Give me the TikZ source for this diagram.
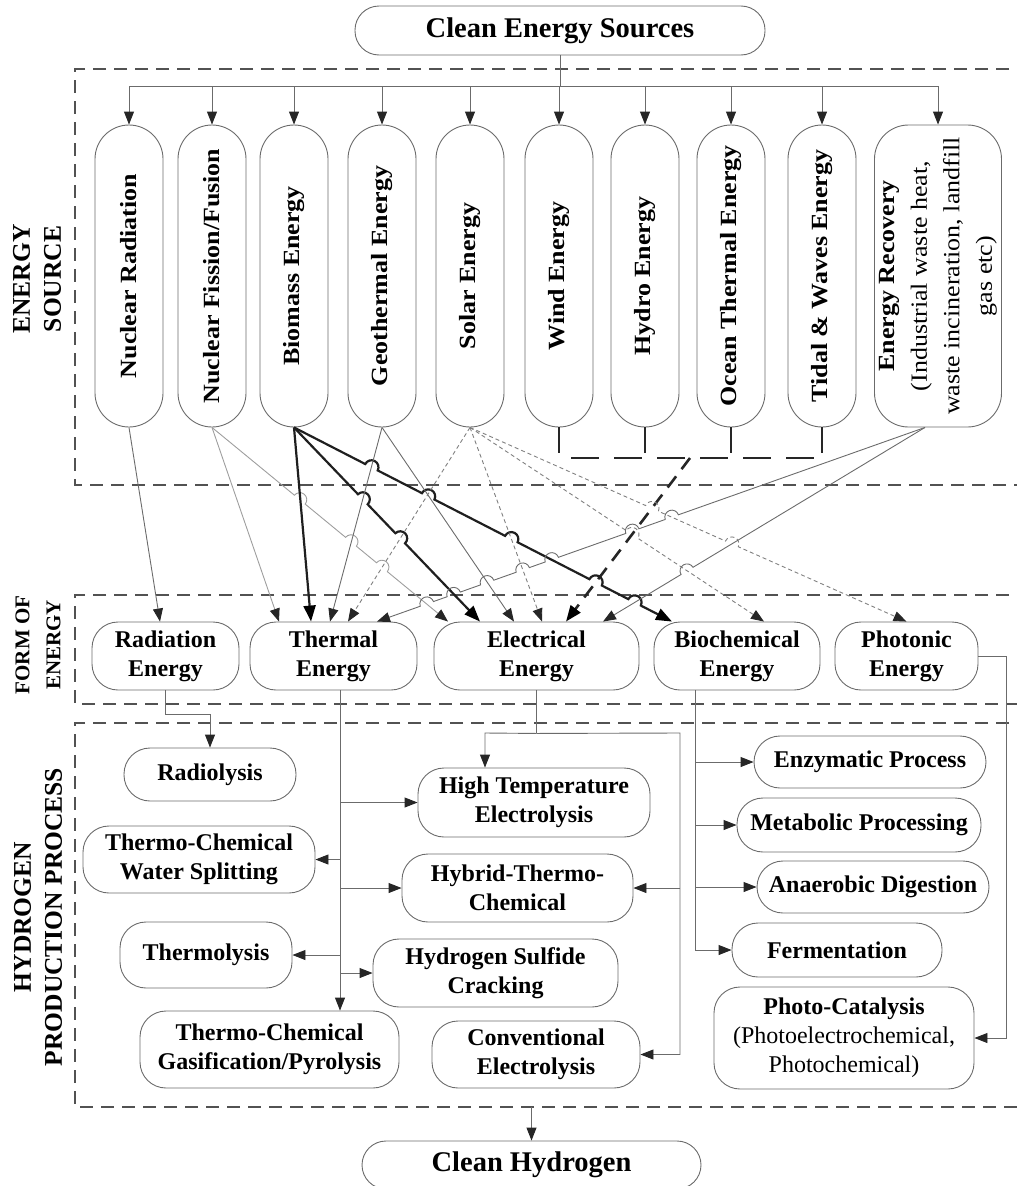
\documentclass[tikz,border=0pt]{standalone}
\usepackage{fontspec}
\setmainfont{Liberation Serif}
\newfontfamily\vfam[FakeStretch=1.12]{Liberation Serif}
\usetikzlibrary{arrows.meta,calc}

\definecolor{ndc}{gray}{0.42}
\definecolor{lnc}{gray}{0.42}
\definecolor{lnl}{gray}{0.62}
\definecolor{bxc}{gray}{0.32}

\newcommand\hfnt{\bfseries\fontsize{24}{29}\selectfont}
\newcommand\vfnt{\vfam\bfseries\fontsize{23.2}{32.5}\selectfont}
\newcommand\tfnt{\bfseries\fontsize{28.5}{32}\selectfont}
\newcommand\lfnt{\bfseries\fontsize{25.5}{31}\selectfont}
\newcommand\mfnt{\bfseries\fontsize{21}{31}\selectfont}

% line with hops: style, from, to, list of fractions, arc delta
\newcommand\hopline[5]{%
  \draw[#1] let \p1=(#2), \p2=(#3), \n1={atan2(\y2-\y1,\x2-\x1)} in (#2)
    \foreach \hopt in {#4} { -- ($(#2)!\hopt!(#3)+({\n1+180}:7pt)$) arc[start angle=\n1+180, delta angle=#5, radius=7pt] }
    -- (#3);}

\tikzset{
  nd/.style={draw=ndc, line width=0.9pt, rounded corners=26pt, align=center, inner sep=0pt, font=\hfnt},
  vnd/.style={draw=ndc, line width=0.9pt, rounded corners=34pt, align=center, inner sep=0pt, font=\vfnt,
              rotate=90, minimum width=302pt, minimum height=68pt},
  lab/.style={rotate=90, align=center, inner sep=0pt},
  bx/.style={draw=bxc, line width=2.3pt, dash pattern=on 13pt off 8pt},
  arr/.style={-{Triangle[length=13pt,width=10pt,color=black!85]}},
  arrT/.style={-{Triangle[length=16pt,width=12pt,color=black]}},
  lnB/.style={draw=lnc, line width=0.9pt},
  lnL/.style={draw=lnl, line width=0.9pt},
  dsh/.style={draw=black!50, line width=0.9pt, dash pattern=on 4pt off 3pt},
  thk/.style={draw=black!88, line width=2.2pt},
  wd/.style={draw=black!85, line width=2.6pt, dash pattern=on 14pt off 9pt},
  wdash/.style={draw=black!85, line width=2pt, dash pattern=on 28pt off 15pt},
  tickln/.style={draw=black!85, line width=1.6pt},
}

\begin{document}
\begin{tikzpicture}[x=1pt,y=1pt]
\useasboundingbox (0,0) rectangle (1017,-1186);

% ---- dashed section boxes (open on the right)
\draw[bx] (1030,-69) -- (75,-69) -- (75,-485) -- (1030,-485);
\draw[bx] (1030,-595) -- (75,-595) -- (75,-704) -- (1030,-704);
\draw[bx] (1030,-723) -- (75,-723) -- (75,-1107) -- (1030,-1107);

% ---- section labels
\node[lab, font=\lfnt] (lab1) at (37,-279) {ENERGY\\SOURCE};
\node[lab, font=\mfnt] (lab2) at (38,-645) {FORM OF\\ENERGY};
\node[lab, font=\lfnt] (lab3) at (38,-917) {HYDROGEN\\PRODUCTION PROCESS};

% ---- header
\node[nd, font=\tfnt, rounded corners=24pt, minimum width=410pt, minimum height=49pt] (hdr) at (560,-30.5) {Clean Energy Sources};

% ---- energy sources
\node[vnd] (nr) at (129,-276) {Nuclear Radiation};
\node[vnd] (nf) at (212,-276) {Nuclear Fission/Fusion};
\node[vnd] (bm) at (294,-276) {Biomass Energy};
\node[vnd] (gt) at (382,-276) {Geothermal Energy};
\node[vnd] (so) at (470,-276) {Solar Energy};
\node[vnd] (wi) at (559,-276) {Wind Energy};
\node[vnd] (hy) at (645,-276) {Hydro Energy};
\node[vnd] (oc) at (731,-276) {Ocean Thermal Energy};
\node[vnd] (ti) at (822,-276) {Tidal \& Waves Energy};
\node[vnd, minimum height=127pt] (er) at (938,-276) {Energy Recovery\\\mdseries(Industrial waste heat,\\\mdseries waste incineration, landfill\\\mdseries gas etc)};

% ---- forms of energy
\node[nd, minimum width=147pt, minimum height=68pt] (rad) at (165.5,-656) {Radiation\\Energy};
\node[nd, minimum width=167pt, minimum height=68pt] (th) at (333.5,-656) {Thermal\\Energy};
\node[nd, minimum width=205pt, minimum height=68pt] (el) at (536.5,-656) {Electrical\\Energy};
\node[nd, minimum width=166pt, minimum height=68pt] (bc) at (737,-656) {Biochemical\\Energy};
\node[nd, minimum width=143pt, minimum height=68pt] (ph) at (906.5,-656) {Photonic\\Energy};

% ---- processes
\node[nd, minimum width=172pt, minimum height=53pt] (rdl) at (210,-774.5) {Radiolysis};
\node[nd, minimum width=232pt, minimum height=69pt] (hte) at (534,-802.5) {High Temperature\\Electrolysis};
\node[nd, minimum width=232pt, minimum height=67pt] (tcws) at (199,-859.5) {Thermo-Chemical\\Water Splitting};
\node[nd, minimum width=231pt, minimum height=68pt] (hyb) at (517.5,-888) {Hybrid-Thermo-\\Chemical};
\node[nd, minimum width=172pt, minimum height=66pt] (tml) at (206,-955) {Thermolysis};
\node[nd, minimum width=245pt, minimum height=68pt] (hsc) at (495.5,-973) {Hydrogen Sulfide\\Cracking};
\node[nd, minimum width=259pt, minimum height=77pt] (gas) at (269.5,-1049.5) {Thermo-Chemical\\Gasification/Pyrolysis};
\node[nd, minimum width=208pt, minimum height=67pt] (cel) at (536,-1054.5) {Conventional\\Electrolysis};
\node[nd, minimum width=232pt, minimum height=52pt] (enz) at (870,-762) {Enzymatic Process};
\node[nd, minimum width=244pt, minimum height=54pt] (met) at (859,-825) {Metabolic Processing};
\node[nd, minimum width=232pt, minimum height=52pt] (ana) at (873,-887) {Anaerobic Digestion};
\node[nd, minimum width=210pt, minimum height=54pt] (fer) at (837,-950) {Fermentation};
\node[nd, minimum width=260pt, minimum height=102pt] (pc) at (844,-1038) {Photo-Catalysis\\\mdseries(Photoelectrochemical,\\\mdseries Photochemical)};
\node[nd, font=\tfnt, rounded corners=24pt, minimum width=339pt, minimum height=48pt] (ch) at (531.5,-1165) {Clean Hydrogen};

% ---- top distribution
\coordinate (bus) at (560,-86);
\draw[lnB] (hdr.south) -- (hdr.south |- bus);
\draw[lnB] (nr.east |- bus) -- (er.east |- bus);
\foreach \n in {nr,nf,bm,gt,so,wi,hy,oc,ti,er} \draw[lnB,arr] (\n.east |- bus) -- (\n.east);

% ---- target points on the form-of-energy nodes
\coordinate (radT) at ($(rad.north)+(-5.5,0)$);
\coordinate (th1) at ($(th.north)+(-54.5,0)$);
\coordinate (th2) at ($(th.north)+(-22.5,0)$);
\coordinate (th3) at ($(th.north)+(-3.5,0)$);
\coordinate (th4) at ($(th.north)+(14.5,0)$);
\coordinate (th5) at ($(th.north)+(43.5,0)$);
\coordinate (el1) at ($(el.north)+(-88.5,0)$);
\coordinate (el2) at ($(el.north)+(-56.5,0)$);
\coordinate (el3) at ($(el.north)+(-22.5,0)$);
\coordinate (el4) at ($(el.north)+(5.5,0)$);
\coordinate (el5) at ($(el.north)+(29.5,0)$);
\coordinate (el6) at ($(el.north)+(66.5,0)$);
\coordinate (bc1) at ($(bc.north)+(-65,0)$);
\coordinate (bc2) at ($(bc.north)+(27,0)$);
\coordinate (erB) at ($(er.west)+(-13,0)$);

% ---- wind/hydro/ocean/tidal collector
\foreach \n in {wi,hy,oc,ti} \draw[tickln] (\n.west) -- ++(0,-26);
\coordinate (wl) at ($(wi.west)+(12,-31)$);
\coordinate (wr) at ($(ti.west)+(-7,-31)$);
\coordinate (wj) at (690,-458);
\draw[wdash] (wl) -- (wr);
\draw[wd,arrT] (wj) -- (el5);

% ---- source to form connectors
\draw[lnB,arr] (nr.west) -- (radT);
\draw[lnL,arr] (nf.west) -- (th1);
\hopline{lnL,arr}{nf.west}{el1}{0.372,0.589,0.720}{-180}
\draw[thk,arrT] (bm.west) -- (th2);
\hopline{thk,arrT}{bm.west}{el2}{0.370,0.571}{-180}
\hopline{thk,arrT}{bm.west}{bc1}{0.205,0.355,0.575,0.798,0.901}{-180}
\draw[lnB,arr] (gt.west) -- (th3);
\draw[lnB,arr] (gt.west) -- (el3);
\draw[dsh,arr] (so.west) -- (th4);
\draw[dsh,arr] (so.west) -- (el4);
\hopline{dsh,arr}{so.west}{bc2}{0.551}{-180}
\hopline{dsh,arr}{so.west}{ph.north}{0.417,0.600}{-180}
\hopline{lnB,arr}{erB}{th5}{0.462,0.534,0.681,0.734,0.799,0.860,0.909}{180}
\hopline{lnB,arr}{erB}{el6}{0.739}{180}

% ---- form to process connectors
\draw[lnB,arr] (rad.south) -- ++(0,-24) -| (rdl.north);

\coordinate (thb) at ($(th.south)+(6.5,0)$);
\draw[lnB,arr] (thb) -- (thb |- gas.north);
\draw[lnB,arr] (thb |- hte.west) -- (hte.west);
\draw[lnB,arr] (thb |- tcws.east) -- (tcws.east);
\draw[lnB,arr] (thb |- hyb.west) -- (hyb.west);
\draw[lnB,arr] (thb |- tml.east) -- (tml.east);
\draw[lnB,arr] (thb |- hsc.west) -- (hsc.west);

\coordinate (elb) at ($(el.south)+(0,-43)$);
\coordinate (elL) at (485,-733);
\coordinate (elR) at (680,-733);
\draw[lnB] (el.south) -- (elb);
\draw[lnB,arr] (elb) -- (elL) -- (elL |- hte.north);
\draw[lnB,arr] (elb) -- (elR) |- (cel.east);
\draw[lnB,arr] (elR |- hyb.east) -- (hyb.east);

\coordinate (bcb) at ($(bc.south)+(-42,0)$);
\draw[lnB,arr] (bcb) |- (fer.west);
\draw[lnB,arr] (bcb |- enz.west) -- (enz.west);
\draw[lnB,arr] (bcb |- met.west) -- (met.west);
\draw[lnB,arr] (bcb |- ana.west) -- (ana.west);

\draw[lnB,arr] (ph.east) -- ++(28,0) |- (pc.east);

\coordinate (b3) at (531.5,-1107);
\draw[lnB,arr] (b3) -- (ch.north);
\end{tikzpicture}
\end{document}
